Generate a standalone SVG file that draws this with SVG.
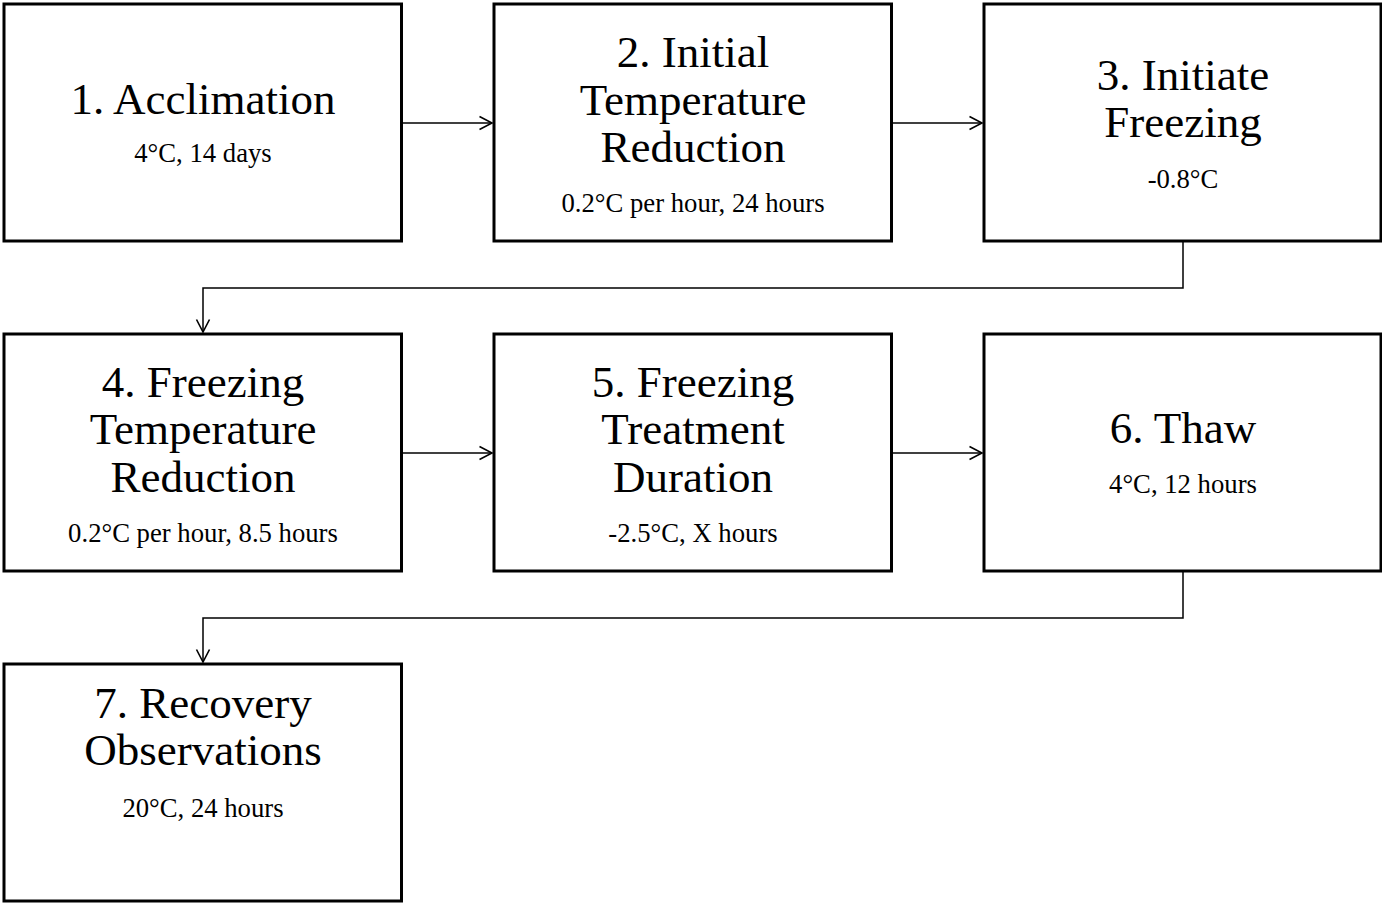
<svg xmlns="http://www.w3.org/2000/svg" width="1382" height="904" viewBox="0 0 1382 904">
<style>
.box{fill:#fff;stroke:#000;stroke-width:3}
.t{font-family:"Liberation Serif","Times New Roman",serif;font-size:45px;fill:#000;text-anchor:middle}
.s{font-family:"Liberation Serif","Times New Roman",serif;font-size:26.7px;fill:#000;text-anchor:middle}
.c{fill:none;stroke:#000;stroke-width:1.5}
</style>
<defs>
<marker id="arr" markerUnits="userSpaceOnUse" markerWidth="16" markerHeight="16" refX="13" refY="7" orient="auto" viewBox="0 0 16 14">
<path d="M0.5,0.5 L13,7 L0.5,13.5" fill="none" stroke="#000" stroke-width="1.6"/>
</marker>
</defs>
<rect width="1382" height="904" fill="#fff"/>
<g id="connectors">
<path class="c" d="M403,123 H492" marker-end="url(#arr)"/>
<path class="c" d="M893,123 H982" marker-end="url(#arr)"/>
<path class="c" d="M1183,242 V288 H203 V332" marker-end="url(#arr)"/>
<path class="c" d="M403,453 H492" marker-end="url(#arr)"/>
<path class="c" d="M893,453 H982" marker-end="url(#arr)"/>
<path class="c" d="M1183,572 V618 H203 V662" marker-end="url(#arr)"/>
</g>
<g id="node1">
<rect class="box" x="4" y="4" width="397.5" height="237"/>
<text class="t" x="203" y="113.5">1. Acclimation</text>
<text class="s" x="203" y="162">4°C, 14 days</text>
</g>
<g id="node2">
<rect class="box" x="494" y="4" width="397.5" height="237"/>
<text class="t" x="693" y="66.7">2. Initial</text>
<text class="t" x="693" y="114.5">Temperature</text>
<text class="t" x="693" y="161.7">Reduction</text>
<text class="s" x="693" y="212">0.2°C per hour, 24 hours</text>
</g>
<g id="node3">
<rect class="box" x="984" y="4" width="397" height="237"/>
<text class="t" x="1183" y="90">3. Initiate</text>
<text class="t" x="1183" y="137.3">Freezing</text>
<text class="s" x="1183" y="188.3">-0.8°C</text>
</g>
<g id="node4">
<rect class="box" x="4" y="334" width="397.5" height="237"/>
<text class="t" x="203" y="396.7">4. Freezing</text>
<text class="t" x="203" y="444.3">Temperature</text>
<text class="t" x="203" y="491.7">Reduction</text>
<text class="s" x="203" y="541.7">0.2°C per hour, 8.5 hours</text>
</g>
<g id="node5">
<rect class="box" x="494" y="334" width="397.5" height="237"/>
<text class="t" x="693" y="396.7">5. Freezing</text>
<text class="t" x="693" y="444.3">Treatment</text>
<text class="t" x="693" y="491.7">Duration</text>
<text class="s" x="693" y="541.7">-2.5°C, X hours</text>
</g>
<g id="node6">
<rect class="box" x="984" y="334" width="397" height="237"/>
<text class="t" x="1183" y="443.3">6. Thaw</text>
<text class="s" x="1183" y="493.3">4°C, 12 hours</text>
</g>
<g id="node7">
<rect class="box" x="4" y="664" width="397.5" height="237"/>
<text class="t" x="203" y="718.3">7. Recovery</text>
<text class="t" x="203" y="765">Observations</text>
<text class="s" x="203" y="816.7">20°C, 24 hours</text>
</g>
</svg>
